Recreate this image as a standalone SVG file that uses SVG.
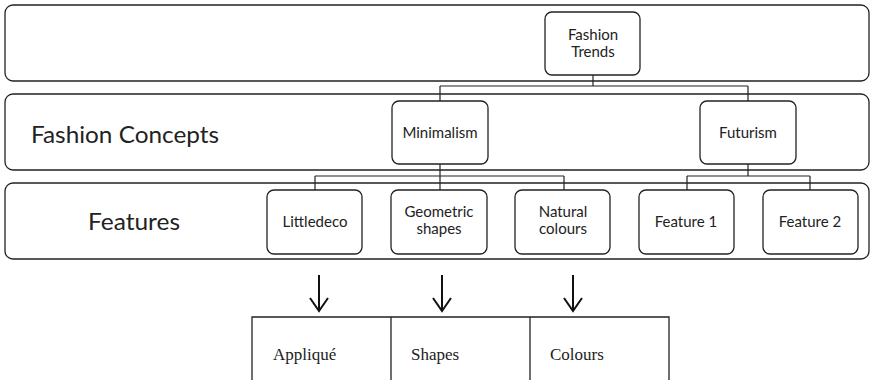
<svg xmlns="http://www.w3.org/2000/svg" width="870" height="380" viewBox="0 0 870 380">
<style>
.band{fill:#fff;stroke:#222;stroke-width:1.3}
.box{fill:#fff;stroke:#222;stroke-width:1.3}
.lbl{font-family:Lato,"Open Sans","Liberation Sans",sans-serif;font-size:15px;fill:#222;text-anchor:middle}
.big{font-family:Lato,"Open Sans","Liberation Sans",sans-serif;font-size:24px;fill:#222}
.conn{fill:none;stroke:#222;stroke-width:1.2}
.tab{fill:none;stroke:#222;stroke-width:1.3}
.ser{font-family:"Liberation Serif",serif;font-size:17px;fill:#222}
.arr{fill:none;stroke:#111;stroke-width:2}
</style>
<g id="bands">
<rect class="band" x="5" y="5" width="864" height="76" rx="8"/>
<rect class="band" x="5" y="94" width="864" height="76" rx="8"/>
<rect class="band" x="5" y="183" width="864" height="76" rx="8"/>
<text class="big" x="31" y="143" textLength="188" lengthAdjust="spacingAndGlyphs">Fashion Concepts</text>
<text class="big" x="88" y="230" textLength="92" lengthAdjust="spacingAndGlyphs">Features</text>
</g>
<g id="connectors">
<path class="conn" d="M593 75V86M440 86H748M440 86V101M748 86V101"/>
<path class="conn" d="M440 164V176M315 176H564M315 176V190M440 176V190M564 176V190"/>
<path class="conn" d="M748 164V176M687 176H810M687 176V190M810 176V190"/>
<path class="arr" d="M319 275V311M310 298L319 311L328 298"/>
<path class="arr" d="M442 275V311M433 298L442 311L451 298"/>
<path class="arr" d="M573 275V311M564 298L573 311L582 298"/>
</g>
<g id="fashion-trends">
<rect class="box" x="545" y="12" width="95" height="63" rx="7"/>
<text class="lbl" x="593" y="40">Fashion</text>
<text class="lbl" x="593" y="57">Trends</text>
</g>
<g id="minimalism">
<rect class="box" x="392" y="101" width="96" height="63" rx="7"/>
<text class="lbl" x="440" y="138">Minimalism</text>
</g>
<g id="futurism">
<rect class="box" x="700" y="101" width="96" height="63" rx="7"/>
<text class="lbl" x="748" y="138">Futurism</text>
</g>
<g id="littledeco">
<rect class="box" x="267" y="190" width="95" height="64" rx="7"/>
<text class="lbl" x="315" y="227">Littledeco</text>
</g>
<g id="geometric-shapes">
<rect class="box" x="391" y="190" width="96" height="64" rx="7"/>
<text class="lbl" x="439" y="217">Geometric</text>
<text class="lbl" x="439" y="234">shapes</text>
</g>
<g id="natural-colours">
<rect class="box" x="515" y="190" width="95" height="64" rx="7"/>
<text class="lbl" x="563" y="217">Natural</text>
<text class="lbl" x="563" y="234">colours</text>
</g>
<g id="feature-1">
<rect class="box" x="639" y="190" width="95" height="64" rx="7"/>
<text class="lbl" x="686" y="227">Feature 1</text>
</g>
<g id="feature-2">
<rect class="box" x="763" y="190" width="95" height="64" rx="7"/>
<text class="lbl" x="810" y="227">Feature 2</text>
</g>
<g id="table">
<path class="tab" d="M252 381V317H669V381M391 317V381M530 317V381"/>
<text class="ser" x="273" y="360">Appliqué</text>
<text class="ser" x="411" y="360">Shapes</text>
<text class="ser" x="550" y="360">Colours</text>
</g>
</svg>
